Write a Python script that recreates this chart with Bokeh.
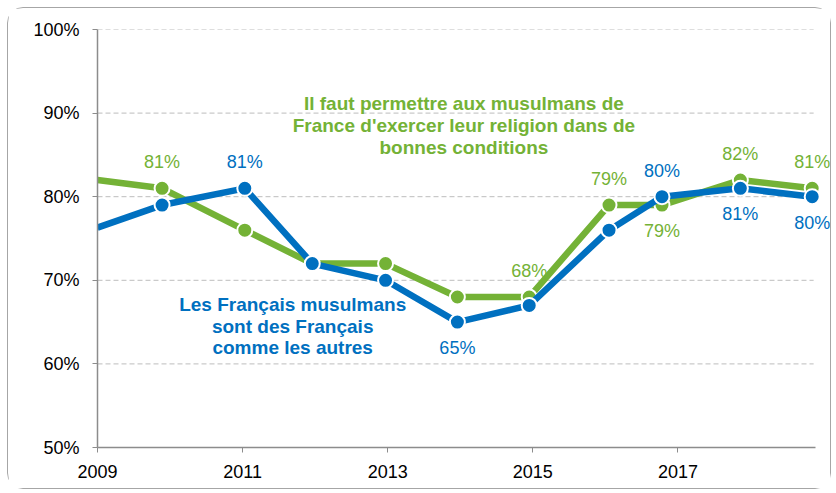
from bokeh.plotting import figure
from bokeh.models import Range1d, FixedTicker, Label
from bokeh.core.properties import value
from bokeh.embed import file_html
from bokeh.resources import INLINE

# ---- data ----
years = [2009.0, 2009.89, 2011.03, 2011.96, 2012.97, 2013.96, 2014.95, 2016.05, 2016.78, 2017.86, 2018.85]
green_vals = [82, 81, 76, 72, 72, 68, 68, 79, 79, 82, 81]
blue_vals = [76.3, 79, 81, 72, 70, 65, 67, 76, 80, 81, 80]

# which points carry a value label, and where (1 = above, -1 = below)
green_label_idx = [1, 6, 7, 8, 9, 10]
green_label_dir = [1, 1, 1, -1, 1, 1]
blue_label_idx = [2, 5, 8, 9, 10]
blue_label_dir = [1, -1, 1, -1, -1]

x_start, x_end = 2009, 2018.9
x_ticks = [2009, 2011, 2013, 2015, 2017]
y_ticks = [50, 60, 70, 80, 90, 100]
y_tick_labels = ["50%", "60%", "70%", "80%", "90%", "100%"]
grid_ticks = [60, 70, 80, 90, 100]

green_title = ["Il faut permettre aux musulmans de",
               "France d'exercer leur religion dans de",
               "bonnes conditions"]
green_title_x = 2014.05
green_title_y = [91.1, 88.5, 85.85]
blue_title = ["Les Français musulmans", "sont des Français", "comme les autres"]
blue_title_x = 2011.69
blue_title_y = [67.1, 64.5, 61.95]

GREEN = "#74B236"
BLUE = "#0070C0"
FONT = "Liberation Sans"

p = figure(width=824, height=482, output_backend="svg", toolbar_location=None,
           x_range=Range1d(x_start, 2019.13), y_range=Range1d(50, 100),
           min_border_left=89, min_border_right=0, min_border_top=21, min_border_bottom=43)
p.styles = {"border": "1px solid #a6a6a6", "border-radius": "16px",
            "margin-left": "7px", "margin-top": "7px"}
p.outline_line_color = None
p.background_fill_color = "white"
p.border_fill_color = "white"

# axes
p.xaxis.ticker = FixedTicker(ticks=x_ticks)
p.xaxis.bounds = (x_start, x_end)
p.yaxis.ticker = FixedTicker(ticks=y_ticks)
p.yaxis.major_label_overrides = {t: l for t, l in zip(y_ticks, y_tick_labels)}
for ax in (p.xaxis, p.yaxis):
    ax.axis_line_color = "#8c8c8c"
    ax.axis_line_width = 1.5
    ax.major_tick_line_color = "#8c8c8c"
    ax.major_tick_out = 5
    ax.major_tick_in = 0
    ax.minor_tick_line_color = None
    ax.major_label_text_font = FONT
    ax.major_label_text_font_size = "18px"
    ax.major_label_text_color = "black"
p.yaxis.major_label_standoff = 13
p.xaxis.major_label_standoff = 12
p.xgrid.grid_line_color = None
p.ygrid.grid_line_color = None

# horizontal dashed grid lines, limited to the axis extent
p.segment(x0=[x_start] * len(grid_ticks), x1=[x_end - 0.03] * len(grid_ticks),
          y0=grid_ticks, y1=grid_ticks, line_color="#bdbdbd", line_width=1, line_dash="5 3")

# lines
p.line(years, green_vals, line_color=GREEN, line_width=6.5)
p.scatter(years[1:], green_vals[1:], size=15, fill_color=GREEN, line_color="white", line_width=2)
p.line(years, blue_vals, line_color=BLUE, line_width=6.5)
p.scatter(years[1:], blue_vals[1:], size=15, fill_color=BLUE, line_color="white", line_width=2)

# value labels
def add_labels(vals, idx, dirs, color):
    for i, d in zip(idx, dirs):
        lab = Label(x=years[i], y=vals[i], text=f"{round(vals[i])}%",
                    x_offset=0, y_offset=26 * d, text_align="center", text_baseline="middle",
                    text_font=FONT, text_font_size="18px", text_color=color)
        p.add_layout(lab)

add_labels(green_vals, green_label_idx, green_label_dir, GREEN)
add_labels(blue_vals, blue_label_idx, blue_label_dir, BLUE)

# series titles
p.text(x=[green_title_x] * 3, y=green_title_y, text=green_title,
       text_align="center", text_baseline="middle", text_font=value(FONT),
       text_font_size="19px", text_font_style="bold", text_color=GREEN)
p.text(x=[blue_title_x] * 3, y=blue_title_y, text=blue_title,
       text_align="center", text_baseline="middle", text_font=value(FONT),
       text_font_size="19px", text_font_style="bold", text_color=BLUE)

open("out.html", "w").write(file_html(p, INLINE))
